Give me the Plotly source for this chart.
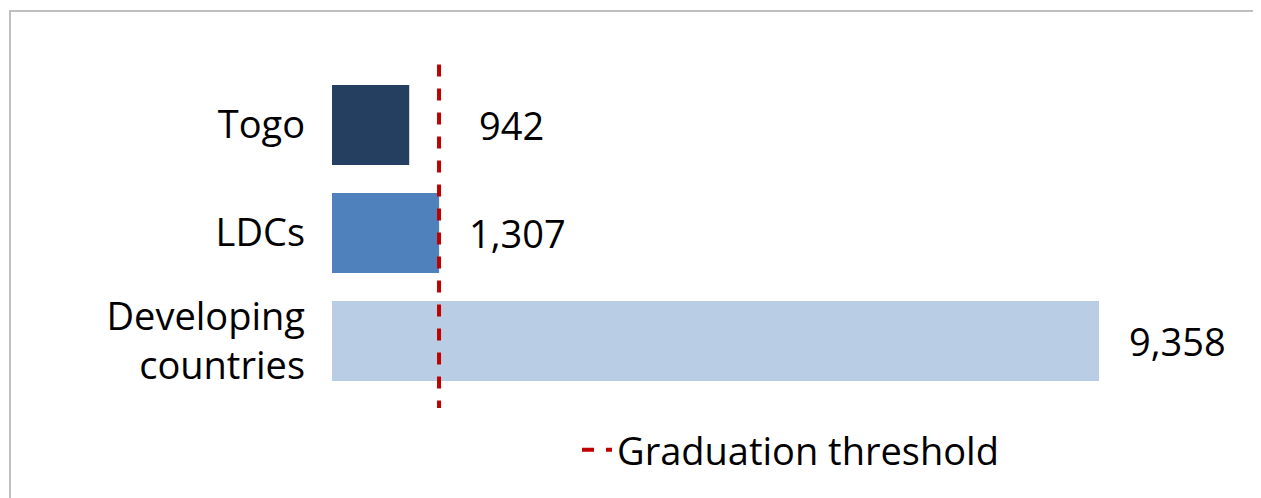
import plotly.graph_objects as go

categories = ["Togo", "LDCs", "Developing<br>countries"]
values = [942, 1307, 9358]
labels = ["942", "1,307", "9,358"]
colors = ["#243F60", "#4F81BD", "#B9CDE5"]
threshold = 1306
label_gaps = [68, 28, 28]

fig = go.Figure()
fig.add_trace(go.Bar(
    y=categories, x=values, orientation="h",
    marker=dict(color=colors, line=dict(width=0)),
    showlegend=False, hoverinfo="x+y",
))
# legend entry for the threshold line
fig.add_trace(go.Scatter(
    x=[None], y=[None], mode="lines", name="Graduation threshold",
    line=dict(color="#C00000", width=4, dash="dash"),
))
for cat, val, lab, gap in zip(categories, values, labels, label_gaps):
    fig.add_annotation(x=val, y=cat, text=lab, showarrow=False,
                       xanchor="left", xshift=gap, font=dict(size=38))

fig.update_layout(
    width=1261, height=498,
    margin=dict(l=324, r=20, t=63, b=111),
    plot_bgcolor="white", paper_bgcolor="white",
    font=dict(family="Open Sans, Liberation Sans, sans-serif", size=38, color="#000000"),
    bargap=0.26,
    xaxis=dict(range=[0, 11188], visible=False),
    yaxis=dict(autorange="reversed", showline=False, showgrid=False, automargin=False,
               ticks="", ticklabelstandoff=26, tickfont=dict(size=38)),
    legend=dict(orientation="h", x=0.5, xanchor="center", y=-0.17, yanchor="middle",
                font=dict(size=38)),
)
fig.add_shape(type="line", x0=threshold, x1=threshold, xref="x",
              y0=1.02, y1=-0.04, yref="paper",
              line=dict(color="#C00000", width=4, dash="dash"))
fig.add_shape(type="rect", xref="paper", yref="paper", layer="below",
              x0=-322/917, x1=1+16/917, y0=-108/324, y1=1+60/324,
              line=dict(color="#BFBFBF", width=2))
fig.write_html("out.html")
